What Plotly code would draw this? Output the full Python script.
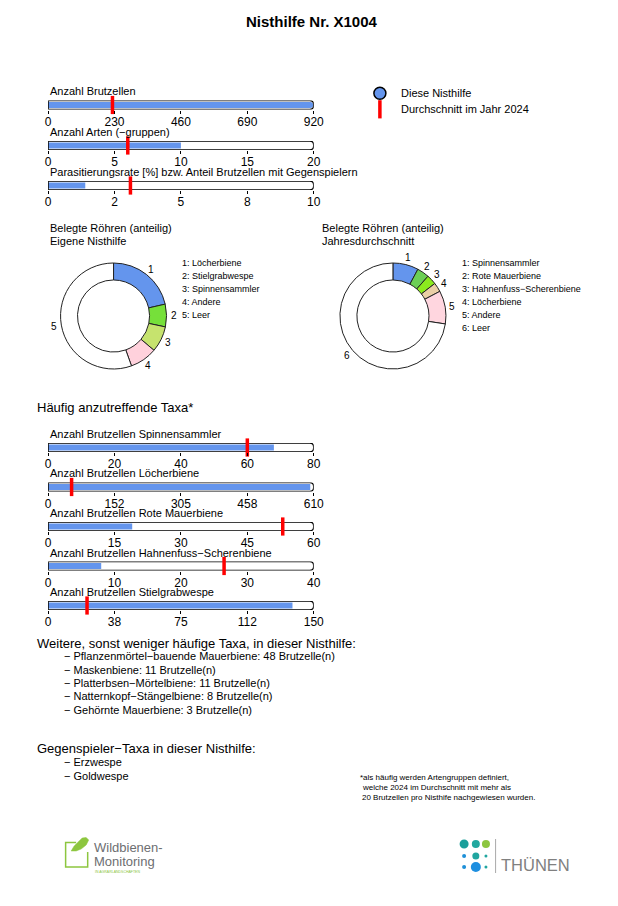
import math
import plotly.graph_objects as go

# The page body has an 8px margin; the figure is kept small enough that the
# page needs no scrollbars.  The photographed page was observed to be mapped
# horizontally as x_out ~= 3.2 + 0.976 * x_page, so reference pixel x values are
# converted back through that mapping.
OFF = 8
W, H = 602, 880
XA, XB = 3.2, 0.976
LEFT_PAD = 2.5  # annotation box padding before the first glyph
FONT = "Liberation Sans, Arial, sans-serif"


def px(x):
    return ((x - XA) / XB - OFF) / W


def py(y):
    return 1 - (y - OFF) / H


# ---------------- data ----------------
title = "Nisthilfe Nr. X1004"

top_labels = ["Anzahl Brutzellen", "Anzahl Arten (\u2212gruppen)",
              "Parasitierungsrate [%] bzw. Anteil Brutzellen mit Gegenspielern"]
top_values = [918, 10, 1.4]
top_means = [223, 6, 3.1]
top_max = [920, 20, 10]
top_ticktext = [["0", "230", "460", "690", "920"],
                ["0", "5", "10", "15", "20"],
                ["0", "2", "5", "8", "10"]]

taxa_labels = ["Anzahl Brutzellen Spinnensammler", "Anzahl Brutzellen L\u00f6cherbiene",
               "Anzahl Brutzellen Rote Mauerbiene",
               "Anzahl Brutzellen Hahnenfuss\u2212Scherenbiene",
               "Anzahl Brutzellen Stielgrabwespe"]
taxa_values = [68, 602, 19, 8, 138]
taxa_means = [60, 54, 53, 26.5, 22]
taxa_max = [80, 610, 60, 40, 150]
taxa_ticktext = [["0", "20", "40", "60", "80"],
                 ["0", "152", "305", "458", "610"],
                 ["0", "15", "30", "45", "60"],
                 ["0", "10", "20", "30", "40"],
                 ["0", "38", "75", "112", "150"]]

own_labels = ["L\u00f6cherbiene", "Stielgrabwespe", "Spinnensammler", "Andere", "Leer"]
own_shares = [21.4, 6.9, 7.9, 8.3, 55.5]
own_colors = ["#6495ED", "#76E03A", "#C6E36E", "#FFD1DC", "#FFFFFF"]

avg_labels = ["Spinnensammler", "Rote Mauerbiene", "Hahnenfuss\u2212Scherenbiene",
              "L\u00f6cherbiene", "Andere", "Leer"]
avg_shares = [7.8, 3.7, 3.0, 2.8, 10.1, 72.6]
avg_colors = ["#6495ED", "#6CCF55", "#8BEA1E", "#EACFA6", "#FFD6DF", "#FFFFFF"]

legend_labels = ["Diese Nisthilfe", "Durchschnitt im Jahr 2024"]

other_taxa = ["Pflanzenm\u00f6rtel\u2212bauende Mauerbiene: 48 Brutzelle(n)",
              "Maskenbiene: 11 Brutzelle(n)",
              "Platterbsen\u2212M\u00f6rtelbiene: 11 Brutzelle(n)",
              "Natternkopf\u2212St\u00e4ngelbiene: 8 Brutzelle(n)",
              "Geh\u00f6rnte Mauerbiene: 3 Brutzelle(n)"]
antagonists = ["Erzwespe", "Goldwespe"]
footnote = ["*als h\u00e4ufig werden Artengruppen definiert,",
            "welche 2024 im Durchschnitt mit mehr als",
            "20 Brutzellen pro Nisthife nachgewiesen wurden."]

BLUE = "#6495ED"

fig = go.Figure()
layout = {}
annotations = []
shapes = []


def ann(text, x, y, size, xanchor="left", color="black"):
    if xanchor == "left":
        x = x - LEFT_PAD
    annotations.append(dict(text=text, x=px(x), y=py(y), xref="paper", yref="paper",
                            xanchor=xanchor, yanchor="middle", showarrow=False,
                            font=dict(size=size, color=color, family=FONT)))


# ---------------- progress bars ----------------
bar_specs = []
top_centers = [105, 145.5, 185.5]
for lab, v, m, mx, tt, c in zip(top_labels, top_values, top_means, top_max, top_ticktext, top_centers):
    bar_specs.append((lab, v, m, mx, tt, c))
taxa_centers = [447.5, 487, 526.5, 566, 605.5]
for lab, v, m, mx, tt, c in zip(taxa_labels, taxa_values, taxa_means, taxa_max, taxa_ticktext, taxa_centers):
    bar_specs.append((lab, v, m, mx, tt, c))

half = 4.5
for i, (lab, v, m, mx, tt, c) in enumerate(bar_specs):
    k = i + 1
    xa = "x" if k == 1 else f"x{k}"
    ya = "y" if k == 1 else f"y{k}"
    common = dict(xaxis=xa, yaxis=ya, hoverinfo="skip", showlegend=False)
    fig.add_trace(go.Bar(x=[mx], y=[0], orientation="h", width=[1],
                         marker=dict(color="white", line=dict(width=0), cornerradius=4),
                         cliponaxis=False, **common))
    fig.add_trace(go.Bar(x=[v], y=[0], orientation="h", width=[0.68],
                         marker=dict(color=BLUE, line=dict(width=0), cornerradius=3),
                         cliponaxis=False, **common))
    fig.add_trace(go.Bar(x=[mx], y=[0], orientation="h", width=[1],
                         marker=dict(color="rgba(0,0,0,0)", line=dict(width=1.5, color="black"),
                                     cornerradius=4),
                         cliponaxis=False, **common))
    fig.add_trace(go.Scatter(x=[m], y=[0], mode="markers",
                             marker=dict(symbol="line-ns", size=13,
                                         line=dict(width=3.5, color="#FF0000")),
                             cliponaxis=False, **common))
    layout["xaxis" if k == 1 else f"xaxis{k}"] = dict(
        domain=[px(48), px(313)], range=[0, mx], anchor=ya,
        tickvals=[mx * j / 4 for j in range(5)], ticktext=tt,
        ticks="outside", ticklen=3, tickwidth=1, tickcolor="black",
        ticklabelstandoff=-2,
        showgrid=False, zeroline=False, showline=False, fixedrange=True,
        tickfont=dict(size=12, color="black", family=FONT))
    layout["yaxis" if k == 1 else f"yaxis{k}"] = dict(
        domain=[py(c + half), py(c - half)], range=[-0.5, 0.5], anchor=xa,
        visible=False, fixedrange=True)
    ann(lab, 50, c - 13.5, 11)

# ---------------- main legend symbols ----------------
fig.add_trace(go.Scatter(x=[0], y=[93.3], mode="markers",
                         marker=dict(symbol="circle", size=12, color=BLUE,
                                     line=dict(width=1.5, color="black")),
                         xaxis="x9", yaxis="y9", hoverinfo="skip", showlegend=False,
                         cliponaxis=False))
fig.add_trace(go.Scatter(x=[0], y=[109.3], mode="markers",
                         marker=dict(symbol="line-ns", size=13,
                                     line=dict(width=3.5, color="#FF0000")),
                         xaxis="x9", yaxis="y9", hoverinfo="skip", showlegend=False,
                         cliponaxis=False))
layout["xaxis9"] = dict(domain=[px(370), px(388)], range=[-1, 1], anchor="y9",
                        visible=False, fixedrange=True)
layout["yaxis9"] = dict(domain=[py(117), py(85)], range=[117, 85], anchor="x9",
                        visible=False, fixedrange=True)
ann(legend_labels[0], 401, 93.3, 11)
ann(legend_labels[1], 401, 109.3, 11)

# ---------------- donuts ----------------
R = 53
HOLE = 0.68


def donut(labels, shares, colors, cx, cy, leg_x, title2, title_x):
    fig.add_trace(go.Pie(labels=labels, values=shares, sort=False, direction="clockwise",
                         rotation=0, hole=HOLE, textinfo="none", hoverinfo="skip",
                         showlegend=False,
                         marker=dict(colors=colors, line=dict(color="#222222", width=1)),
                         domain=dict(x=[px(cx - R), px(cx + R)], y=[py(cy + R), py(cy - R)])))
    tot = sum(shares)
    cum = 0
    for i, s in enumerate(shares):
        mid = (cum + s / 2) / tot * 2 * math.pi
        lx = cx + 60 * math.sin(mid)
        ly = cy - 60 * math.cos(mid)
        ann(str(i + 1), lx, ly, 10, xanchor="center")
        cum += s
    for i, lab in enumerate(labels):
        ann(f"{i + 1}: {lab}", leg_x, 262.7 + 13.1 * i, 9)
    ann("Belegte R\u00f6hren (anteilig)", title_x, 228.3, 11)
    ann(title2, title_x, 241, 11)


donut(own_labels, own_shares, own_colors, 113.3, 316, 182.3, "Eigene Nisthilfe", 50)
donut(avg_labels, avg_shares, avg_colors, 392, 316, 461, "Jahresdurchschnitt", 321.7)

# ---------------- texts ----------------
annotations.append(dict(text="<b>" + title + "</b>", x=px(311), y=py(21.5), xref="paper",
                        yref="paper", xanchor="center", yanchor="middle", showarrow=False,
                        font=dict(size=15, color="black", family=FONT)))
ann("H\u00e4ufig anzutreffende Taxa*", 37, 407.3, 13)
ann("Weitere, sonst weniger h\u00e4ufige Taxa, in dieser Nisthilfe:", 37, 643.3, 13)
for i, t in enumerate(other_taxa):
    ann("\u2212 " + t, 64, 656.3 + 13.3 * i, 11)
ann("Gegenspieler\u2212Taxa in dieser Nisthilfe:", 37, 748.5, 13)
for i, t in enumerate(antagonists):
    ann("\u2212 " + t, 64, 762 + 14 * i, 11)
for i, t in enumerate(footnote):
    ann(t, 360 if i == 0 else 362, 777.5 + 9.8 * i, 8)

# ---------------- logos ----------------
GREEN = "#8DC63F"


def ppath(pts, close=False):
    s = "M " + " L ".join(f"{px(x):.5f},{py(y):.5f}" for x, y in pts)
    return s + (" Z" if close else "")


shapes.append(dict(type="path", xref="paper", yref="paper",
                   path=ppath([(76, 842.5), (65.5, 842.5), (65.5, 867), (87.5, 867), (87.5, 852)]),
                   line=dict(color=GREEN, width=1.5)))
shapes.append(dict(type="path", xref="paper", yref="paper",
                   path=ppath([(71, 851), (74, 846), (78, 842), (82, 838), (86, 837.5),
                               (88.5, 840), (86, 845), (81, 849), (76, 851)], close=True),
                   fillcolor=GREEN, line=dict(color=GREEN, width=0.5)))
ann("Wildbienen-", 94, 847, 13, color="#6D6E71")
ann("Monitoring", 94, 861, 13, color="#6D6E71")
ann("IN AGRARLANDSCHAFTEN", 95, 872, 3.5, color=GREEN)

dots = [(463, 844, 4.5, "#1A9E9A"), (474.7, 844, 4.0, "#22A89F"), (484.8, 844, 4.0, "#8DC63F"),
        (463, 856, 2.0, "#1E90D8"), (474.7, 856, 3.5, "#20A6A0"), (484.8, 856, 1.5, "#20A6A0"),
        (463, 867, 2.0, "#1E90D8"), (474.7, 867, 5.0, "#1E8FE0"), (484.8, 867, 1.5, "#20A6A0")]
for x, y, r, col in dots:
    shapes.append(dict(type="circle", xref="paper", yref="paper",
                       x0=px(x - r), x1=px(x + r), y0=py(y + r), y1=py(y - r),
                       fillcolor=col, line=dict(width=0)))
shapes.append(dict(type="line", xref="paper", yref="paper", x0=px(494.4), x1=px(494.4),
                   y0=py(873), y1=py(839), line=dict(color="#AAAAAA", width=1)))
ann("TH\u00dcNEN", 500, 865, 16.5, color="#808080")

fig.update_layout(
    width=W, height=H, margin=dict(l=0, r=0, t=0, b=0),
    paper_bgcolor="white", plot_bgcolor="rgba(0,0,0,0)",
    barmode="overlay", showlegend=False,
    font=dict(family=FONT, color="black"),
    annotations=annotations, shapes=shapes,
    **layout)

fig.write_html("out.html")
